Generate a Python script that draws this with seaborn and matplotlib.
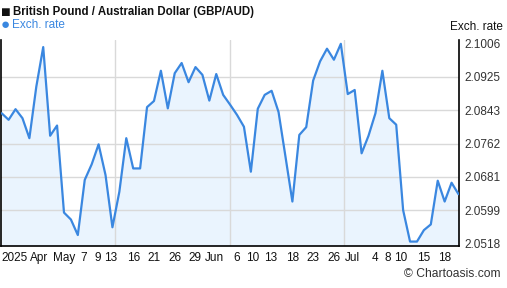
import matplotlib
matplotlib.use("Agg")
import matplotlib.pyplot as plt
import seaborn as sns
import numpy as np
import pandas as pd

rates = [2.0836, 2.0820, 2.0846, 2.0824, 2.0775, 2.0901, 2.0998, 2.0781, 2.0806, 2.0593,
         2.0576, 2.0538, 2.0673, 2.0711, 2.0760, 2.0685, 2.0557, 2.0644, 2.0775, 2.0701,
         2.0701, 2.0851, 2.0866, 2.0940, 2.0848, 2.0934, 2.0959, 2.0912, 2.0949, 2.0930,
         2.0867, 2.0932, 2.0881, 2.0857, 2.0832, 2.0803, 2.0693, 2.0847, 2.0881, 2.0891,
         2.0839, 2.0730, 2.0620, 2.0783, 2.0802, 2.0916, 2.0963, 2.0994, 2.0967, 2.1006,
         2.0883, 2.0893, 2.0738, 2.0781, 2.0836, 2.0940, 2.0824, 2.0808, 2.0599, 2.0522,
         2.0522, 2.0550, 2.0564, 2.0671, 2.0620, 2.0666, 2.0638]
x_labels = ["2025", "Apr", "May", "7", "9", "13", "16", "21", "26", "29", "Jun", "6",
            "10", "13", "18", "23", "26", "Jul", "4", "8", "10", "15", "18"]
x_label_pos = [1.8, 5.4, 9.0, 11.9, 13.9, 15.8, 19.0, 22.0, 25.0, 27.9, 30.8, 33.9,
               36.2, 38.8, 42.0, 45.0, 48.0, 50.7, 54.0, 55.8, 57.6, 60.9, 64.0]
y_ticks = [2.0518, 2.0599, 2.0681, 2.0762, 2.0843, 2.0925, 2.1006]

df = pd.DataFrame({"idx": np.arange(len(rates)), "rate": rates})

sns.set_style("white")
plt.rcParams['font.family'] = ['Liberation Sans', 'DejaVu Sans']

W, H = 507, 288
fig = plt.figure(figsize=(W / 100, H / 100), dpi=100)
ax = fig.add_axes([1 / W, 1 - 245.5 / H, (458.5 - 1) / W, (245.5 - 40) / H])

line_color = "#3a87e0"
ymin, ymax = 2.05124, 2.10153
ax.fill_between(df["idx"], df["rate"], ymin, color="#eaf4fe", zorder=1, linewidth=0)
sns.lineplot(data=df, x="idx", y="rate", ax=ax, color=line_color, linewidth=1.6, zorder=3)

ax.set_xlim(-0.1, 66.0)
ax.set_ylim(ymin, ymax)

# gridlines
for yt in y_ticks[1:-1]:
    ax.axhline(yt, color="#d9d9d9", linewidth=1.0, zorder=2)
xl = ax.get_xlim()
for q in (0.25, 0.5, 0.75):
    ax.axvline(xl[0] + q * (xl[1] - xl[0]), color="#d9d9d9", linewidth=1.0, zorder=2)

ax.yaxis.tick_right()
ax.set_yticks(y_ticks)
ax.set_yticklabels([f"{v:.4f}" for v in y_ticks], fontsize=8.5, color="#333333")
ax.tick_params(axis="y", length=0, pad=4)
ax.set_xticks(x_label_pos)
ax.set_xticklabels(x_labels, fontsize=8.5, color="#111111")
ax.tick_params(axis="x", length=0, pad=5)
ax.set_xlabel("")
ax.set_ylabel("")

for s in ("left", "right", "bottom"):
    ax.spines[s].set_visible(True)
    ax.spines[s].set_color("black")
    ax.spines[s].set_linewidth(1.2)
ax.spines["top"].set_visible(False)

fig.text(1 / W, 1 - 12 / H, "■", fontsize=11.5, color="#111111", va="center", ha="left")
fig.text(13 / W, 1 - 12 / H, "British Pound / Australian Dollar (GBP/AUD)", fontsize=8.3,
         fontweight="bold", color="#111111", va="center", ha="left")
fig.text(1 / W, 1 - 25 / H, "●", fontsize=11, color=line_color, va="center", ha="left")
fig.text(12 / W, 1 - 25 / H, "Exch. rate", fontsize=8.5, color=line_color, va="center", ha="left")
fig.text(503 / W, 1 - 27 / H, "Exch. rate", fontsize=8.5, color="#111111", va="center", ha="right")
fig.text(500 / W, 1 - 274 / H, "© Chartoasis.com", fontsize=8.7, color="#333333", va="center", ha="right")

fig.savefig("out.png", dpi=100)
